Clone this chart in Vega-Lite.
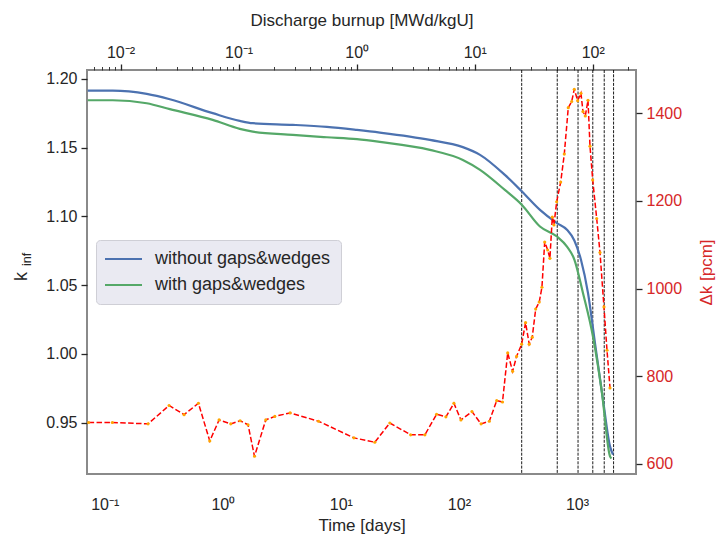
{
  "$schema": "https://vega.github.io/schema/vega-lite/v6.json",
  "width": 549,
  "height": 404,
  "autosize": "none",
  "padding": {"left": 87, "top": 70, "right": 81, "bottom": 66},
  "config": {
    "font": "Liberation Sans",
    "view": {"stroke": "#8a8a8a", "strokeWidth": 2},
    "axis": {"labelColor": "#262626", "titleColor": "#262626", "labelFontSize": 16, "titleFontSize": 17, "titleFontWeight": "normal", "grid": false, "domain": false, "tickColor": "#262626", "labelFlush": false, "labelOverlap": false}
  },
  "datasets": {
    "k": [
      {"t": 0.0718, "series": "without gaps&wedges", "k": 1.1915},
      {"t": 0.117, "series": "without gaps&wedges", "k": 1.1915},
      {"t": 0.227, "series": "without gaps&wedges", "k": 1.1891},
      {"t": 0.356, "series": "without gaps&wedges", "k": 1.1852},
      {"t": 0.822, "series": "without gaps&wedges", "k": 1.1751},
      {"t": 1.393, "series": "without gaps&wedges", "k": 1.1695},
      {"t": 1.796, "series": "without gaps&wedges", "k": 1.1678},
      {"t": 3.92, "series": "without gaps&wedges", "k": 1.1666},
      {"t": 7.61, "series": "without gaps&wedges", "k": 1.1651},
      {"t": 13.7, "series": "without gaps&wedges", "k": 1.1629},
      {"t": 21.4, "series": "without gaps&wedges", "k": 1.161},
      {"t": 56.8, "series": "without gaps&wedges", "k": 1.1557},
      {"t": 108, "series": "without gaps&wedges", "k": 1.1504},
      {"t": 151, "series": "without gaps&wedges", "k": 1.1448},
      {"t": 245, "series": "without gaps&wedges", "k": 1.1302},
      {"t": 342, "series": "without gaps&wedges", "k": 1.1181},
      {"t": 486, "series": "without gaps&wedges", "k": 1.1048},
      {"t": 677, "series": "without gaps&wedges", "k": 1.0951},
      {"t": 823, "series": "without gaps&wedges", "k": 1.0903},
      {"t": 950, "series": "without gaps&wedges", "k": 1.0825},
      {"t": 1081, "series": "without gaps&wedges", "k": 1.0685},
      {"t": 1240, "series": "without gaps&wedges", "k": 1.0443},
      {"t": 1421, "series": "without gaps&wedges", "k": 1.0079},
      {"t": 1661, "series": "without gaps&wedges", "k": 0.9667},
      {"t": 1905, "series": "without gaps&wedges", "k": 0.9328},
      {"t": 2018, "series": "without gaps&wedges", "k": 0.9268},
      {"t": 0.0718, "series": "with gaps&wedges", "k": 1.1845},
      {"t": 0.117, "series": "with gaps&wedges", "k": 1.1845},
      {"t": 0.227, "series": "with gaps&wedges", "k": 1.1823},
      {"t": 0.356, "series": "with gaps&wedges", "k": 1.178},
      {"t": 0.822, "series": "with gaps&wedges", "k": 1.1702},
      {"t": 1.393, "series": "with gaps&wedges", "k": 1.1637},
      {"t": 1.796, "series": "with gaps&wedges", "k": 1.1617},
      {"t": 3.92, "series": "with gaps&wedges", "k": 1.1593},
      {"t": 7.61, "series": "with gaps&wedges", "k": 1.1576},
      {"t": 13.7, "series": "with gaps&wedges", "k": 1.1562},
      {"t": 21.4, "series": "with gaps&wedges", "k": 1.1542},
      {"t": 56.8, "series": "with gaps&wedges", "k": 1.1484},
      {"t": 108, "series": "with gaps&wedges", "k": 1.1411},
      {"t": 151, "series": "with gaps&wedges", "k": 1.1339},
      {"t": 245, "series": "with gaps&wedges", "k": 1.1193},
      {"t": 342, "series": "with gaps&wedges", "k": 1.1084},
      {"t": 486, "series": "with gaps&wedges", "k": 1.0927},
      {"t": 677, "series": "with gaps&wedges", "k": 1.0854},
      {"t": 823, "series": "with gaps&wedges", "k": 1.0781},
      {"t": 952, "series": "with gaps&wedges", "k": 1.0685},
      {"t": 1124, "series": "with gaps&wedges", "k": 1.0443},
      {"t": 1366, "series": "with gaps&wedges", "k": 1.0127},
      {"t": 1629, "series": "with gaps&wedges", "k": 0.9716},
      {"t": 1905, "series": "with gaps&wedges", "k": 0.9255},
      {"t": 1960, "series": "with gaps&wedges", "k": 0.924}
    ],
    "dk": [
      {"t": 0.0731, "dk": 694}, {"t": 0.116, "dk": 694}, {"t": 0.233, "dk": 691}, {"t": 0.351, "dk": 733},
      {"t": 0.47, "dk": 712}, {"t": 0.622, "dk": 738}, {"t": 0.776, "dk": 652}, {"t": 0.931, "dk": 700},
      {"t": 1.169, "dk": 691}, {"t": 1.402, "dk": 698}, {"t": 1.637, "dk": 689}, {"t": 1.856, "dk": 617},
      {"t": 2.314, "dk": 700}, {"t": 2.758, "dk": 708}, {"t": 3.72, "dk": 716}, {"t": 6.47, "dk": 697},
      {"t": 12.9, "dk": 659}, {"t": 19.4, "dk": 649}, {"t": 26.0, "dk": 693}, {"t": 39.0, "dk": 666},
      {"t": 51.5, "dk": 666}, {"t": 64.7, "dk": 713}, {"t": 77.6, "dk": 707}, {"t": 90.7, "dk": 738},
      {"t": 104, "dk": 700}, {"t": 129, "dk": 719}, {"t": 154, "dk": 691}, {"t": 181, "dk": 697},
      {"t": 209, "dk": 744}, {"t": 234, "dk": 741}, {"t": 259, "dk": 853}, {"t": 285, "dk": 811},
      {"t": 308, "dk": 845}, {"t": 340, "dk": 873}, {"t": 367, "dk": 922}, {"t": 394, "dk": 873},
      {"t": 418, "dk": 889}, {"t": 447, "dk": 953}, {"t": 479, "dk": 969}, {"t": 505, "dk": 1003},
      {"t": 533, "dk": 1106}, {"t": 565, "dk": 1088}, {"t": 590, "dk": 1069}, {"t": 618, "dk": 1163},
      {"t": 638, "dk": 1145}, {"t": 673, "dk": 1198}, {"t": 728, "dk": 1243}, {"t": 781, "dk": 1307},
      {"t": 844, "dk": 1413}, {"t": 902, "dk": 1427}, {"t": 949, "dk": 1455}, {"t": 1014, "dk": 1429},
      {"t": 1081, "dk": 1446}, {"t": 1124, "dk": 1404}, {"t": 1176, "dk": 1394}, {"t": 1240, "dk": 1430},
      {"t": 1289, "dk": 1325}, {"t": 1359, "dk": 1248}, {"t": 1469, "dk": 1160}, {"t": 1567, "dk": 1082},
      {"t": 1693, "dk": 958}, {"t": 1796, "dk": 859}, {"t": 1905, "dk": 773}
    ],
    "bu": [{"b": 25}, {"b": 50}, {"b": 75}, {"b": 100}, {"b": 125}, {"b": 150}]
  },
  "layer": [
    {
      "data": {"name": "bu"},
      "mark": {"type": "rule", "color": "#000000", "strokeWidth": 0.9, "strokeDash": [3, 1.3]},
      "encoding": {
        "x": {
          "field": "b", "type": "quantitative",
          "scale": {"type": "log", "domain": [0.0052, 232.3], "nice": false},
          "axis": {
            "orient": "top",
            "title": "Discharge burnup [MWd/kgU]",
            "values": [0.006, 0.007, 0.008, 0.009, 0.01, 0.02, 0.03, 0.04, 0.05, 0.06, 0.07, 0.08, 0.09, 0.1, 0.2, 0.3, 0.4, 0.5, 0.6, 0.7, 0.8, 0.9, 1, 2, 3, 4, 5, 6, 7, 8, 9, 10, 20, 30, 40, 50, 60, 70, 80, 90, 100, 200],
            "labelExpr": "abs(log(datum.value)/LN10 - round(log(datum.value)/LN10)) < 0.01 ? '10' + (round(log(datum.value)/LN10) < 0 ? '⁻' : '') + ['⁰','¹','²','³','⁴'][abs(round(log(datum.value)/LN10))] : ''",
            "tickSize": {"condition": {"test": "abs(log(datum.value)/LN10 - round(log(datum.value)/LN10)) < 0.01", "value": 6}, "value": 3.5},
            "tickWidth": {"condition": {"test": "abs(log(datum.value)/LN10 - round(log(datum.value)/LN10)) < 0.01", "value": 1.3}, "value": 0.9},
            "labelPadding": 4,
            "titlePadding": 15
          }
        }
      }
    },
    {
      "data": {"name": "k"},
      "mark": {"type": "line", "strokeWidth": 2.2, "interpolate": "monotone"},
      "encoding": {
        "x": {
          "field": "t", "type": "quantitative",
          "scale": {"type": "log", "domain": [0.0708, 3162], "nice": false},
          "axis": {
            "orient": "bottom",
            "title": "Time [days]",
            "values": [0.1, 1, 10, 100, 1000],
            "ticks": false,
            "labelPadding": 22,
            "titlePadding": 5,
            "labelExpr": "'10' + (round(log(datum.value)/LN10) < 0 ? '⁻' : '') + ['⁰','¹','²','³','⁴'][abs(round(log(datum.value)/LN10))]"
          }
        },
        "y": {
          "field": "k", "type": "quantitative",
          "scale": {"domain": [0.9127, 1.2065], "nice": false, "zero": false},
          "axis": {
            "orient": "left",
            "values": [0.95, 1.0, 1.05, 1.1, 1.15, 1.2],
            "format": ".2f",
            "tickSize": 6, "tickWidth": 1.3,
            "labelPadding": 4,
            "title": "k",
            "titleFontSize": 18,
            "titleBaseline": "alphabetic",
            "titleX": -61,
            "titleY": 206
          }
        },
        "color": {
          "field": "series", "type": "nominal",
          "scale": {"domain": ["without gaps&wedges", "with gaps&wedges"], "range": ["#4C72B0", "#55A868"]},
          "legend": {
            "orient": "none", "legendX": 9, "legendY": 170,
            "title": null,
            "fillColor": "#EAEAF2", "strokeColor": "#cfcfd6", "cornerRadius": 4, "padding": 10,
            "symbolType": "M-3.7,0H3.7", "symbolSize": 100, "symbolStrokeWidth": 2.2, "symbolOffset": 8.5,
            "labelFontSize": 18, "labelColor": "#262626", "labelOffset": 22.5, "labelLimit": 400, "rowPadding": 8
          }
        }
      }
    },
    {
      "data": {"name": "dk"},
      "encoding": {
        "x": {"field": "t", "type": "quantitative", "scale": {"type": "log", "domain": [0.0708, 3162], "nice": false}, "axis": null},
        "y": {
          "field": "dk", "type": "quantitative",
          "scale": {"domain": [576.5, 1499], "nice": false, "zero": false},
          "axis": {
            "orient": "right",
            "values": [600, 800, 1000, 1200, 1400],
            "format": "d",
            "tickSize": 6, "tickWidth": 1.3,
            "labelColor": "#d62728", "titleColor": "#d62728",
            "labelPadding": 4,
            "title": "Δk [pcm]",
            "titleAngle": 270,
            "titleBaseline": "middle",
            "titleX": 70,
            "titleY": 202
          }
        }
      },
      "layer": [
        {"mark": {"type": "line", "color": "#ff0000", "strokeWidth": 1.5, "strokeDash": [5.5, 2.4]}},
        {"mark": {"type": "circle", "color": "#ffa500", "size": 10, "opacity": 1}}
      ]
    },
    {
      "data": {"name": "k"},
      "mark": {"type": "line", "opacity": 0},
      "encoding": {
        "x": {"field": "t", "type": "quantitative", "scale": {"type": "log", "domain": [0.0708, 3162], "nice": false}, "axis": null},
        "y": {
          "field": "k", "type": "quantitative",
          "scale": {"domain": [0.9127, 1.2065], "nice": false, "zero": false},
          "axis": {
            "orient": "left", "labels": false, "ticks": false, "domain": false,
            "title": "inf", "titleFontSize": 12.5,
            "titleBaseline": "alphabetic",
            "titleX": -57, "titleY": 189
          }
        }
      }
    }
  ],
  "resolve": {"scale": {"x": "independent", "y": "independent"}}
}
